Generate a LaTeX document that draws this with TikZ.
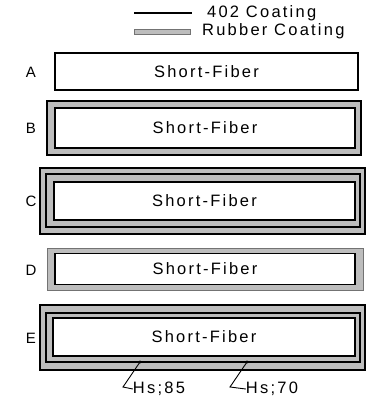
\documentclass[tikz,border=0pt]{standalone}
\usepackage{fontspec}
\setmainfont{Liberation Sans}
\newfontfamily\lsp{Liberation Sans}[LetterSpace=13.5]
\begin{document}
\begin{tikzpicture}[x=1pt,y=-1pt,
  txt/.style={font=\lsp\fontsize{16.5}{19}\selectfont, inner sep=0pt},
  core/.style={draw=black, line width=2.4pt, fill=white, inner sep=0pt, txt},
  thincore/.style={draw=black, line width=1.5pt, fill=white, inner sep=0pt, txt},
  band/.style={fill=black!26, draw=black!55, line width=0.6pt},
  rim/.style={draw=black, line width=1.8pt},
  lbl/.style={font=\fontsize{15}{17}\selectfont, inner sep=0pt},
  lead/.style={draw=black, line width=0.9pt}]
\useasboundingbox (0,0) rectangle (369,399);

% legend
\coordinate (l1a) at (134,13);
\coordinate (l1b) at (192,13);
\draw[line width=1.6pt] (l1a) -- (l1b);
\node[txt, anchor=west] (leg1) at (207,13) {402 Coating};
\draw[band] (134,29.5) rectangle (190,34.5);
\node[txt, anchor=west] (leg2) at (202,31) {Rubber Coating};

% A
\node[lbl] (la) at (31,72) {A};
\node[core, minimum width=303pt, minimum height=37pt] (a) at (206.5,71.5) {Short-Fiber};

% B
\node[lbl] (lb) at (31,128) {B};
\draw[band] (47,101) rectangle (361,155);
\draw[rim, line width=1.2pt] (47,101) rectangle (361,155);
\node[core, minimum width=300pt, minimum height=40pt] (b) at (205,128) {Short-Fiber};

% C
\node[lbl] (lc) at (31,201) {C};
\draw[band] (40,168) rectangle (365,234);
\draw[rim] (40,168) rectangle (365,234);
\draw[band, draw=none] (46,174) rectangle (360,227);
\draw[rim, line width=1.5pt] (46,174) rectangle (360,227);
\node[core, minimum width=301pt, minimum height=38pt] (c) at (204.5,201) {Short-Fiber};

% D
\node[lbl] (ld) at (31,270) {D};
\draw[band] (47,248) rectangle (363,290);
\node[thincore, minimum width=300pt, minimum height=31pt] (d) at (205,269) {Short-Fiber};

% E
\node[lbl] (le) at (31,338) {E};
\draw[band] (40,305) rectangle (365,370);
\draw[rim] (40,305) rectangle (365,370);
\draw[band, draw=none] (46,313) rectangle (360,362);
\draw[rim, line width=1.5pt] (46,313) rectangle (360,362);
\node[core, minimum width=302pt, minimum height=38pt] (e) at (204,337) {Short-Fiber};

% hardness labels
\node[txt] (h85) at (159,389) {Hs;85};
\node[txt] (h70) at (272,389) {Hs;70};
\coordinate (t85) at (140,362);
\coordinate (t70) at (247,362);
\coordinate (k85) at (123,387);
\coordinate (k70) at (230,387);
\draw[lead] (h85.west) -- (k85) -- (t85);
\draw[lead] (h70.west) -- (k70) -- (t70);
\fill (t85) circle (1.6pt);
\fill (t70) circle (1.6pt);
\end{tikzpicture}
\end{document}
